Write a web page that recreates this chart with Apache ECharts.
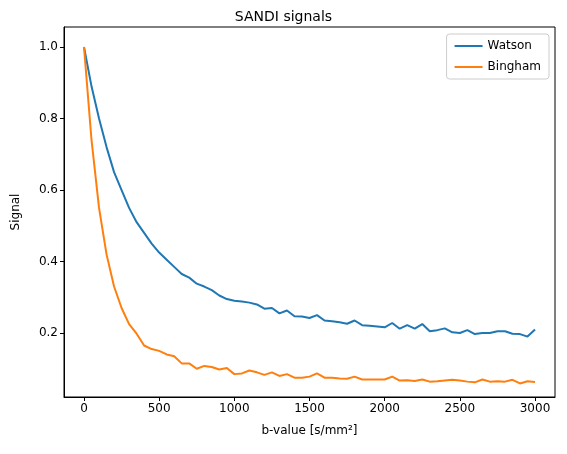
<!DOCTYPE html>
<html>
<head>
<meta charset="utf-8">
<script src="https://cdn.jsdelivr.net/npm/echarts@6/dist/echarts.min.js"></script>
<style>html,body{margin:0;padding:0;background:#fff}#myChart{width:567px;height:454px}</style>
</head>
<body>
<div id="myChart"></div>
<script>
const bValues = [];
for (let b = 0; b <= 3000; b += 50) bValues.push(b);
const watson = [1.0, 0.89, 0.80, 0.72, 0.65, 0.60, 0.55, 0.51, 0.48, 0.45, 0.425, 0.405, 0.385, 0.365, 0.355, 0.338, 0.33, 0.32, 0.305, 0.295,
  0.29, 0.288, 0.285, 0.28, 0.268, 0.27, 0.255, 0.263, 0.247, 0.246, 0.242, 0.25, 0.235, 0.233, 0.23, 0.226, 0.235, 0.222, 0.22, 0.218,
  0.216, 0.228, 0.212, 0.222, 0.212, 0.225, 0.205, 0.208, 0.213, 0.202, 0.2, 0.208, 0.197, 0.2, 0.2, 0.205, 0.205, 0.198, 0.197, 0.19, 0.21];
const bingham = [1.0, 0.74, 0.55, 0.42, 0.33, 0.27, 0.225, 0.198, 0.165, 0.155, 0.15, 0.14, 0.135, 0.115, 0.115, 0.1, 0.108, 0.105, 0.098, 0.102,
  0.085, 0.087, 0.095, 0.09, 0.083, 0.09, 0.08, 0.085, 0.075, 0.075, 0.078, 0.087, 0.075, 0.075, 0.073, 0.072, 0.078, 0.07, 0.07, 0.07,
  0.07, 0.078, 0.067, 0.068, 0.066, 0.07, 0.064, 0.065, 0.067, 0.069, 0.067, 0.064, 0.062, 0.07, 0.064, 0.065, 0.064, 0.069, 0.059, 0.065, 0.063];
const xTicks = [0, 500, 1000, 1500, 2000, 2500, 3000];
const yTicks = [0.2, 0.4, 0.6, 0.8, 1.0];

const pair = ys => bValues.map((b, i) => [b, ys[i]]);
const font = "DejaVu Sans";
const myChart = echarts.init(document.getElementById("myChart"));
const option = {
  animation: false,
  textStyle: { fontFamily: font },
  title: { text: "SANDI signals", left: "center", top: 5, textStyle: { fontFamily: font, fontSize: 14, fontWeight: "normal", color: "#000" } },
  legend: {
    right: 18, top: 34, orient: "vertical", itemWidth: 28, itemHeight: 2, itemGap: 9,
    icon: "rect", padding: [6, 8], borderColor: "#ccc", borderWidth: 1, borderRadius: 3,
    textStyle: { fontFamily: font, fontSize: 12, color: "#000" }
  },
  grid: { left: 64, right: 12, top: 27, bottom: 57, containLabel: false },
  xAxis: {
    type: "value", min: -133, max: 3133,
    name: "b-value [s/mm²]", nameLocation: "middle", nameGap: 28,
    nameTextStyle: { fontFamily: font, fontSize: 12, color: "#000" },
    axisLine: { show: true, onZero: false, lineStyle: { color: "#000" } },
    axisTick: { show: true, customValues: xTicks, length: 4, lineStyle: { color: "#000" } },
    axisLabel: { customValues: xTicks, formatter: v => String(v), fontFamily: font, fontSize: 12, color: "#000", margin: 6 },
    splitLine: { show: false }
  },
  yAxis: {
    type: "value", min: 0.021, max: 1.056,
    name: "Signal", nameLocation: "middle", nameGap: 42,
    nameTextStyle: { fontFamily: font, fontSize: 12, color: "#000" },
    axisLine: { show: true, onZero: false, lineStyle: { color: "#000" } },
    axisTick: { show: true, customValues: yTicks, length: 4, lineStyle: { color: "#000" } },
    axisLabel: { customValues: yTicks, formatter: v => v.toFixed(1), fontFamily: font, fontSize: 12, color: "#000", margin: 6 },
    splitLine: { show: false }
  },
  series: [
    { name: "Watson", type: "line", data: pair(watson), showSymbol: false, lineStyle: { width: 2, color: "#1f77b4" }, itemStyle: { color: "#1f77b4" } },
    { name: "Bingham", type: "line", data: pair(bingham), showSymbol: false, lineStyle: { width: 2, color: "#ff7f0e" }, itemStyle: { color: "#ff7f0e" } }
  ],
  graphic: [{ type: "rect", shape: { x: 64, y: 27, width: 491, height: 370 }, style: { fill: "none", stroke: "#000", lineWidth: 1 }, silent: true, z: -1 }]
};
myChart.setOption(option);
</script>
</body>
</html>
